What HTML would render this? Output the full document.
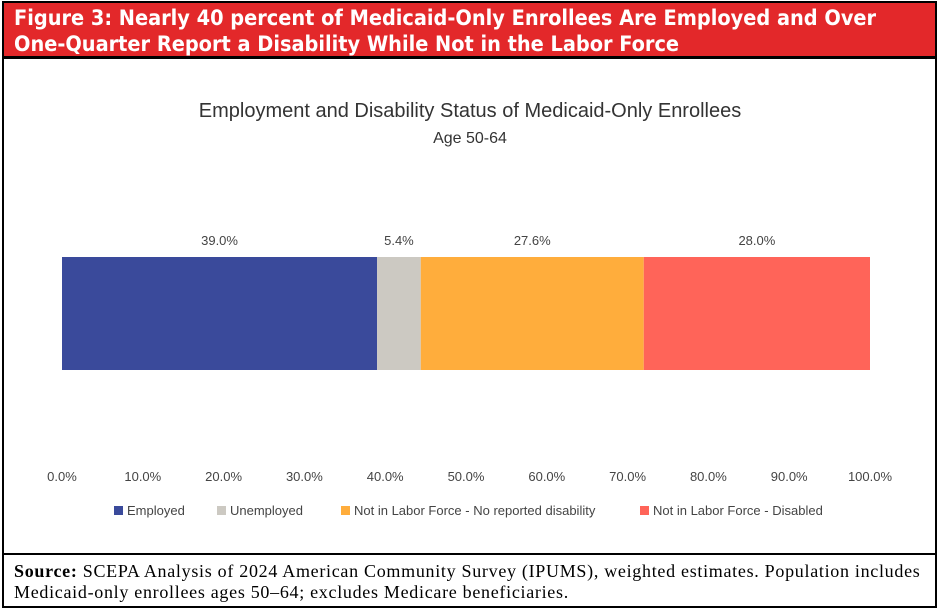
<!DOCTYPE html>
<html><head><meta charset="utf-8"><style>
body{margin:0;width:939px;height:610px;background:#fff;position:relative;overflow:hidden;font-family:"Liberation Sans",sans-serif}
#frame{position:absolute;left:2px;top:1px;width:931px;height:603px;border:2px solid #000}
#hdr{position:absolute;left:0;top:0;width:931px;height:56px;background:#E3282A;border-bottom:3px solid #000;color:#fff;font-weight:bold;font-size:21.5px;letter-spacing:0px;line-height:26px;padding:3px 0 0 10px;box-sizing:border-box;font-family:"DejaVu Sans Condensed","Liberation Sans Narrow","Liberation Sans",sans-serif}
#src{position:absolute;left:0;top:550px;width:931px;height:53px;border-top:2px solid #000;font-family:"Liberation Serif",serif;font-size:18px;letter-spacing:0.7px;line-height:21px;padding:6px 0 0 10px;box-sizing:border-box;white-space:nowrap}
svg{position:absolute;left:0;top:0}
</style></head><body>
<div id="frame">
<div id="hdr">Figure 3: Nearly 40 percent of Medicaid-Only Enrollees Are Employed and Over<br>One-Quarter Report a Disability While Not in the Labor Force</div>
<div id="src"><b>Source:</b> SCEPA Analysis of 2024 American Community Survey (IPUMS), weighted estimates. Population includes<br>Medicaid-only enrollees ages 50–64; excludes Medicare beneficiaries.</div>
</div>
<svg id="chart" width="939" height="550"></svg>
<script>
const categories=["Employed","Unemployed","Not in Labor Force - No reported disability","Not in Labor Force - Disabled"];
const values=[39.0,5.4,27.6,28.0];
const colors=["#3A4A9B","#CCC9C2","#FFAD3C","#FF6459"];
const tickValues=[0,10,20,30,40,50,60,70,80,90,100];
const NS="http://www.w3.org/2000/svg";
const svg=document.getElementById('chart');
const x0=62,x1=870;
const xs=v=>x0+(x1-x0)*v/100;
function mk(t,a,txt){const e=document.createElementNS(NS,t);for(const k in a)e.setAttribute(k,a[k]);if(txt!=null)e.textContent=txt;svg.appendChild(e);return e;}
let t=mk('text',{x:470,y:117,'text-anchor':'middle','font-size':'20','fill':'#333'},'Employment and Disability Status of Medicaid-Only Enrollees');


t=mk('text',{x:470,y:143,'text-anchor':'middle','font-size':'16','fill':'#333'},'Age 50-64');


let cum=0;
values.forEach((v,i)=>{
 const r=mk('rect',{x:xs(cum),y:257,width:xs(cum+v)-xs(cum),height:113,fill:colors[i]});
 
 
 const l=mk('text',{x:(xs(cum)+xs(cum+v))/2,y:245,'text-anchor':'middle','font-size':'13','fill':'#444'},v.toFixed(1)+'%');
 
 
 cum+=v;
});
tickValues.forEach(v=>{
 const l=mk('text',{x:xs(v),y:481,'text-anchor':'middle','font-size':'13','fill':'#444'},v.toFixed(1)+'%');
 
 
});
const lx=[114,217,341,640];
categories.forEach((c,i)=>{
 const s=mk('rect',{x:lx[i],y:506,width:9,height:9,fill:colors[i]});
 
 
 const l=mk('text',{x:lx[i]+13,y:515,'font-size':'13','fill':'#444'},c);
 
 
});
</script>
</body></html>
